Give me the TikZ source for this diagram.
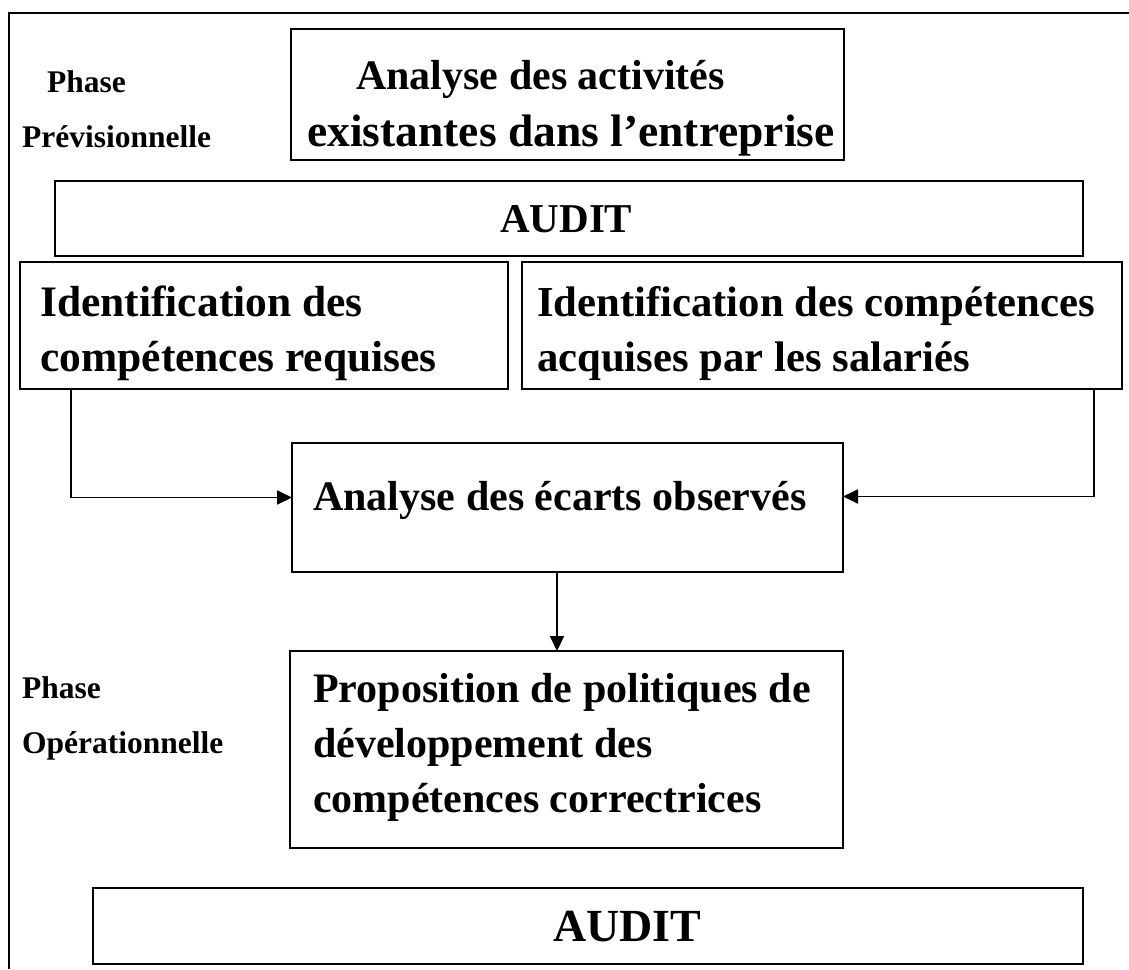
\documentclass[tikz,border=0pt]{standalone}
\usepackage{fontspec}
\setmainfont{Liberation Serif}
\usetikzlibrary{fit,arrows.meta,calc}
\begin{document}
\begin{tikzpicture}[x=1pt,y=-1pt,
  box/.style={draw,line width=1.9pt,inner sep=0pt,outer sep=0pt},
  frameline/.style={line width=1.9pt},
  txt/.style={inner sep=0pt,anchor=base west},
  big/.style={txt,font=\fontsize{42}{55}\selectfont\bfseries},
  bigA/.style={txt,font=\fontsize{45.5}{55}\selectfont\bfseries},
  bigL/.style={txt,font=\fontsize{43.5}{55}\selectfont\bfseries},
  bigR/.style={txt,font=\fontsize{42.7}{55}\selectfont\bfseries},
  phase/.style={txt,font=\fontsize{31.5}{55}\selectfont\bfseries},
  auditA/.style={txt,font=\fontsize{41}{50}\selectfont\bfseries},
  auditB/.style={txt,font=\fontsize{46}{50}\selectfont\bfseries},
  arr/.style={line width=1.9pt,-{Triangle[length=15pt,width=14pt]}}]
\useasboundingbox (0,0) rectangle (1129,969);
% frame
\coordinate (fbl) at (9,969);
\coordinate (ftl) at (9,13);
\coordinate (ftr) at (1129,13);
\draw[frameline] (fbl) -- (ftl) -- (ftr);
% boxes
\node[box,fit={(291,29) (844,160)}] (act) {};
\node[box,fit={(55,181) (1083,256)}] (audit1) {};
\node[box,fit={(20,262) (508,389)}] (idl) {};
\node[box,fit={(522,262) (1122,389)}] (idr) {};
\node[box,fit={(292,443) (843,572)}] (ecarts) {};
\node[box,fit={(290,651) (843,848)}] (prop) {};
\node[box,fit={(93,888) (1083,964)}] (audit2) {};
% texts
\node[phase] (ph1) at (47,92) {Phase};
\node[phase] (ph1b) at (22,147) {Prévisionnelle};
\node[big] (act1) at (356,89) {Analyse des activités};
\node[bigA] (act2) at (307,146) {existantes dans l’entreprise};
\node[auditA] (au1) at (500,232) {AUDIT};
\node[bigL] (idl1) at (40,316) {Identification des};
\node[bigL] (idl2) at (40,371) {compétences requises};
\node[bigR] (idr1) at (537,316) {Identification des compétences};
\node[bigR] (idr2) at (537,371) {acquises par les salariés};
\node[big] (ec1) at (313,510) {Analyse des écarts observés};
\node[phase] (ph2) at (22,698) {Phase};
\node[phase] (ph2b) at (22,753) {Opérationnelle};
\node[big] (pr1) at (313,702) {Proposition de politiques de};
\node[big] (pr2) at (313,757) {développement des};
\node[big] (pr3) at (313,812) {compétences correctrices};
\node[auditB] (au2) at (553,941) {AUDIT};
% connectors
\draw[arr] ($(idl.south west)+(51,0)$) |- ($(ecarts.west)+(0,-10)$);
\draw[arr] ($(idr.south east)+(-28,0)$) |- ($(ecarts.east)+(0,-11)$);
\draw[arr] ($(ecarts.south west)+(265,0)$) -- ($(prop.north west)+(267,0)$);
\end{tikzpicture}
\end{document}
